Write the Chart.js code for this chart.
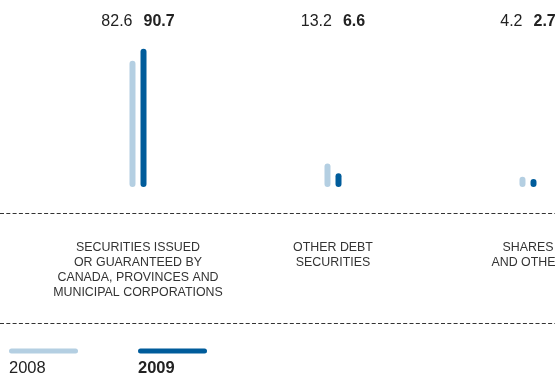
<!DOCTYPE html>
<html>
<head>
<meta charset="utf-8">
<script src="https://cdn.jsdelivr.net/npm/chart.js@4/dist/chart.umd.min.js"></script>
<style>
  html, body { margin: 0; padding: 0; background: #fff; overflow: hidden; }
  canvas { display: block; }
</style>
</head>
<body>
<canvas id="chart" width="640" height="373"></canvas>
<script>
// categories, split into label lines
var categories = [
  ["SECURITIES ISSUED", "OR GUARANTEED BY", "CANADA, PROVINCES AND", "MUNICIPAL CORPORATIONS"],
  ["OTHER DEBT", "SECURITIES"],
  ["SHARES", "AND OTHER"]
];
var years = ["2008", "2009"];
var values2008 = [82.6, 13.2, 4.2];
var values2009 = [90.7, 6.6, 2.7];

var lightBlue = "#b4cfe2";
var darkBlue = "#005c9b";
var font = "'Liberation Sans', Arial, Helvetica, sans-serif";

var decorations = {
  id: "decorations",
  afterDraw: function(chart) {
    var ctx = chart.ctx;
    var x = chart.scales.x;
    var w = chart.width;

    ctx.save();
    // dashed rules
    ctx.strokeStyle = "#333";
    ctx.lineWidth = 1;
    ctx.setLineDash([4, 2.3]);
    [213.5, 323.5].forEach(function(y) {
      ctx.beginPath();
      ctx.moveTo(0, y);
      ctx.lineTo(w, y);
      ctx.stroke();
    });
    ctx.setLineDash([]);

    for (var i = 0; i < categories.length; i++) {
      var cx = x.getPixelForValue(i);

      // value labels: 2008 normal, 2009 bold, centred on group
      var a = values2008[i].toFixed(1);
      var b = values2009[i].toFixed(1);
      var gap = 11;
      ctx.font = "16px " + font;
      var wa = ctx.measureText(a).width;
      ctx.font = "bold 16px " + font;
      var wb = ctx.measureText(b).width;
      var start = cx - (wa + gap + wb) / 2;
      ctx.fillStyle = "#222";
      ctx.textAlign = "left";
      ctx.textBaseline = "alphabetic";
      ctx.font = "16px " + font;
      ctx.fillText(a, start, 25.5);
      ctx.font = "bold 16px " + font;
      ctx.fillText(b, start + wa + gap, 25.5);

      // category labels
      ctx.font = "12.4px " + font;
      ctx.fillStyle = "#333";
      ctx.textAlign = "center";
      categories[i].forEach(function(line, j) {
        ctx.fillText(line, cx, 250.5 + j * 15);
      });
    }

    // legend
    var legendX = [9, 138];
    var colors = [lightBlue, darkBlue];
    ctx.lineCap = "round";
    ctx.lineWidth = 5;
    ctx.textAlign = "left";
    for (var k = 0; k < years.length; k++) {
      ctx.strokeStyle = colors[k];
      ctx.beginPath();
      ctx.moveTo(legendX[k] + 2.5, 351);
      ctx.lineTo(legendX[k] + 66.5, 351);
      ctx.stroke();
      ctx.fillStyle = "#222";
      ctx.font = (k === 1 ? "bold " : "") + "16.5px " + font;
      ctx.fillText(years[k], legendX[k], 373);
    }
    ctx.restore();
  }
};

new Chart(document.getElementById("chart"), {
  type: "bar",
  data: {
    labels: categories.map(function(c) { return c.join(" "); }),
    datasets: [
      { label: years[0], data: values2008, backgroundColor: lightBlue },
      { label: years[1], data: values2009, backgroundColor: darkBlue }
    ]
  },
  options: {
    responsive: false,
    animation: false,
    layout: { padding: { left: 40.5, right: 14.5, top: 35, bottom: 186 } },
    datasets: {
      bar: {
        categoryPercentage: 0.113,
        barPercentage: 0.545,
        borderRadius: 3,
        borderSkipped: false,
        base: -2.7
      }
    },
    scales: {
      x: { display: false },
      y: { display: false, min: -2.7, max: 100 }
    },
    plugins: {
      legend: { display: false },
      tooltip: { enabled: false }
    }
  },
  plugins: [decorations]
});
</script>
</body>
</html>
